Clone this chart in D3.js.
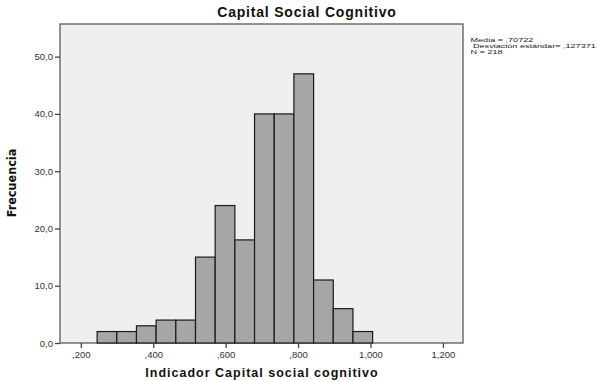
<!DOCTYPE html>
<html>
<head>
<meta charset="utf-8">
<script src="https://cdn.jsdelivr.net/npm/d3@7"></script>
<style>
  body { margin: 0; background: #fff; }
  text { font-family: Arial, "Liberation Sans", sans-serif; }
</style>
</head>
<body>
<div id="container"></div>
<script>
const counts = [2, 2, 3, 4, 4, 15, 24, 18, 40, 40, 47, 11, 6, 2];
const binStart = 0.245,
    binWidth = 0.05435;
const xTicks = [0.2, 0.4, 0.6, 0.8, 1.0, 1.2];
const yTicks = [0, 10, 20, 30, 40, 50];
const stats = ["Media = ,70722", "Desviación estándar= ,127371", "N = 218"];

const W = 598, H = 381;
const m = { left: 60, right: 463, top: 24, bottom: 343 };
// the stat lines are stretched wide in the export
const statBox = { x: [470.5, 473, 470.5], w: 123, y0: 42, dy: 6.2 };

const svg = d3.select('#container')
    .append('svg')
        .attr('width', W)
        .attr('height', H);

var x = d3.scaleLinear()
    .domain([0.1425, 1.2555])
    .range([m.left, m.right]);

var y = d3.scaleLinear()
    .domain([0, 55.7])
    .range([m.bottom, m.top]);

const bins = counts.map((c, i) => ({ x0: binStart + i * binWidth, x1: binStart + (i + 1) * binWidth, n: c }));

// plot background
svg.append('rect')
    .attr('x', m.left)
    .attr('y', m.top)
    .attr('width', m.right - m.left)
    .attr('height', m.bottom - m.top)
    .attr('fill', '#efefef')
    .attr('stroke', '#5a5a5a')
    .attr('stroke-width', 1.3);

svg.selectAll('rect.bar')
    .data(bins)
    .enter()
    .append('rect')
        .attr('class', 'bar')
        .attr('x', d => x(d.x0))
        .attr('y', d => y(d.n))
        .attr('width', d => x(d.x1) - x(d.x0))
        .attr('height', d => y(0) - y(d.n))
        .attr('fill', '#a6a6a6')
        .attr('stroke', '#1a1a1a')
        .attr('stroke-width', 1.2);

// axes
const xAxis = svg.append('g')
    .attr('transform', `translate(0,${m.bottom})`)
    .call(d3.axisBottom(x).tickValues(xTicks).tickSize(5).tickPadding(3)
        .tickFormat(d => d3.format('.3f')(d).replace('0.', '.').replace('.', ',')));

const yAxis = svg.append('g')
    .attr('transform', `translate(${m.left},0)`)
    .call(d3.axisLeft(y).tickValues(yTicks).tickSize(5).tickPadding(2)
        .tickFormat(d => d3.format('.1f')(d).replace('.', ',')));

[xAxis, yAxis].forEach(g => {
    g.select('.domain').remove();
    g.selectAll('line').attr('stroke', '#444').attr('stroke-width', 1.3);
    g.selectAll('text').attr('fill', '#333').style('font-size', '9.5px');
});

// titles
svg.append('text')
    .attr('x', 307)
    .attr('y', 17)
    .attr('text-anchor', 'middle')
    .style('font-size', '14px')
    .style('font-weight', 'bold')
    .style('letter-spacing', '0.8px')
    .attr('fill', '#111')
    .text('Capital Social Cognitivo');

svg.append('text')
    .attr('x', 262)
    .attr('y', 377)
    .attr('text-anchor', 'middle')
    .style('font-size', '12.5px')
    .style('font-weight', 'bold')
    .style('letter-spacing', '1px')
    .attr('fill', '#111')
    .text('Indicador Capital social cognitivo');

svg.append('text')
    .attr('transform', 'translate(16,183) rotate(-90)')
    .attr('text-anchor', 'middle')
    .style('font-family', '"Liberation Sans Narrow", "DejaVu Sans Condensed", Arial, sans-serif')
    .style('font-size', '12.5px')
    .style('font-weight', 'bold')
    .attr('fill', '#111')
    .text('Frecuencia');

// stats text, one shared horizontal stretch
const statText = svg.selectAll('text.stat')
    .data(stats)
    .enter()
    .append('text')
        .attr('class', 'stat')
        .style('font-size', '7.5px')
        .attr('fill', '#222')
        .text(d => d);

var longest = d3.max(statText.nodes(), n => n.getComputedTextLength());
var sx = statBox.w / longest;

statText.attr('transform', (d, i) =>
    `translate(${statBox.x[i]},${statBox.y0 + i * statBox.dy}) scale(${sx},0.7)`);
</script>
</body>
</html>
